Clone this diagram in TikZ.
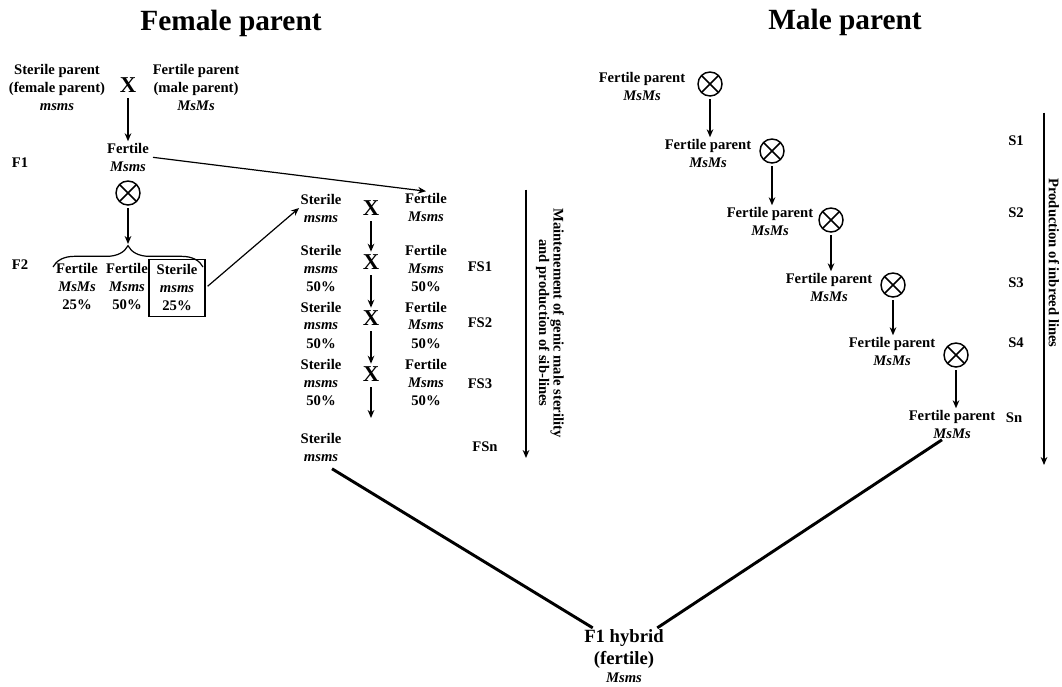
\documentclass[tikz,border=0pt]{standalone}
\usepackage{fontspec}
\setmainfont{Liberation Serif}
\usetikzlibrary{arrows.meta,decorations.pathreplacing}

\begin{document}
\begin{tikzpicture}[x=0.75pt, y=-0.75pt,
  every node/.style={font=\fontsize{11}{13.5}\selectfont\bfseries, align=center, inner sep=1pt},
  ttl/.style={font=\fontsize{22}{26}\selectfont\bfseries},
  cross/.style={font=\fontsize{17}{17}\selectfont\bfseries, inner sep=2pt},
  self/.style={circle, draw, line width=1.1pt, minimum size=18pt, inner sep=0pt,
    path picture={\draw[line width=1.1pt] (path picture bounding box.north west) -- (path picture bounding box.south east)
      (path picture bounding box.north east) -- (path picture bounding box.south west);}},
  arr/.style={-{Stealth[length=6pt,width=5pt]}, line width=0.9pt, shorten <=2pt},
  leg/.style={line width=2.2pt},
  side/.style={rotate=-90, font=\fontsize{11}{11}\selectfont\bfseries}]
  \useasboundingbox (0,0) rectangle (1062,686);

  \node[ttl] (ttlF) at (231,23) {Female parent};
  \node[ttl] (ttlM) at (845,22) {Male parent};

  \node (sp) at (57,87) {Sterile parent\\(female parent)\\\textit{msms}};
  \node[cross] (x0) at (128,85) {X};
  \node (fp) at (196,87) {Fertile parent\\(male parent)\\\textit{MsMs}};
  \node (f1) at (128,157) {Fertile\\\textit{Msms}};
  \node (gF1) at (20,163) {F1};
  \node[self] (s0) at (128,193) {};
  \node (gF2) at (20,265) {F2};
  \node (c1) at (77,287) {Fertile\\\textit{MsMs}\\25\%};
  \node (c2) at (127,287) {Fertile\\\textit{Msms}\\50\%};
  \node[draw, line width=0.9pt, minimum width=42pt, minimum height=43pt] (c3) at (177,288) {Sterile\\\textit{msms}\\25\%};
  \coordinate (bt) at (128,244);
  \draw[decorate, decoration={brace, amplitude=16pt}, line width=0.9pt] (53,267) -- (203,267);

  \node (r0s) at (321,208) {Sterile\\\textit{msms}};
  \node[cross] (r0x) at (371,208) {X};
  \node (r0f) at (426,207) {Fertile\\\textit{Msms}};
  \node (r1s) at (321,269) {Sterile\\\textit{msms}\\50\%};
  \node[cross] (r1x) at (371,262) {X};
  \node (r1f) at (426,269) {Fertile\\\textit{Msms}\\50\%};
  \node (g1) at (480,267) {FS1};
  \node (r2s) at (321,325) {Sterile\\\textit{msms}\\50\%};
  \node[cross] (r2x) at (371,318) {X};
  \node (r2f) at (426,325) {Fertile\\\textit{Msms}\\50\%};
  \node (g2) at (480,323) {FS2};
  \node (r3s) at (321,382) {Sterile\\\textit{msms}\\50\%};
  \node[cross] (r3x) at (371,374) {X};
  \node (r3f) at (426,382) {Fertile\\\textit{Msms}\\50\%};
  \node (g3) at (480,384) {FS3};
  \node (r4s) at (321,447) {Sterile\\\textit{msms}};
  \coordinate (r4x) at (371,418);
  \node (g4) at (485,447) {FSn};
  \coordinate (fsT) at (526,187);
  \coordinate (fsB) at (526,458);
  \node[side] (fsTxt) at (550,323) {Maintenement of genic male sterility\\and production of sib-lines};

  \node (m0) at (642,86) {Fertile parent\\\textit{MsMs}};
  \node[self] (o0) at (710,84) {};
  \node (m1) at (708,153) {Fertile parent\\\textit{MsMs}};
  \node[self] (o1) at (772,151) {};
  \node (m2) at (770,221) {Fertile parent\\\textit{MsMs}};
  \node[self] (o2) at (831,220) {};
  \node (m3) at (829,287) {Fertile parent\\\textit{MsMs}};
  \node[self] (o3) at (893,285) {};
  \node (m4) at (892,351) {Fertile parent\\\textit{MsMs}};
  \node[self] (o4) at (956,355) {};
  \node (m5) at (952,424) {Fertile parent\\\textit{MsMs}};
  \node (gS1) at (1016,141) {S1};
  \node (gS2) at (1016,213) {S2};
  \node (gS3) at (1016,283) {S3};
  \node (gS4) at (1016,343) {S4};
  \node (gSn) at (1014,418) {Sn};
  \coordinate (msT) at (1044,110);
  \coordinate (msB) at (1044,465);
  \node[side] (msTxt) at (1054,263) {Production of inbreed lines};

  \node[font=\fontsize{14}{16.5}\selectfont\bfseries] (hyb) at (624,656) {F1 hybrid\\(fertile)\\[-3pt]{\fontsize{11}{13}\selectfont\textit{Msms}}};

  \draw[arr] (x0) -- (f1);
  \draw[arr] (s0) -- (bt);
  \draw[arr] (c3.east) -- (r0s.west);
  \draw[arr] (f1.east) -- (r0f.north);
  \draw[arr] (r0x) -- (r1x);
  \draw[arr] (r1x) -- (r2x);
  \draw[arr] (r2x) -- (r3x);
  \draw[arr] (r3x) -- (r4x);
  \draw[arr] (fsT) -- (fsB);
  \draw[arr] (o0) -- (o0 |- m1.north);
  \draw[arr] (o1) -- (o1 |- m2.north);
  \draw[arr] (o2) -- (o2 |- m3.north);
  \draw[arr] (o3) -- (o3 |- m4.north);
  \draw[arr] (o4) -- (o4 |- m5.north);
  \draw[arr] (msT) -- (msB);
  \draw[leg] ([shift={(11,6)}]r4s.south) -- ([shift={(10,0)}]hyb.north west);
  \draw[leg] ([shift={(-10,0)}]m5.south) -- ([shift={(-8,0)}]hyb.north east);
\end{tikzpicture}
\end{document}
